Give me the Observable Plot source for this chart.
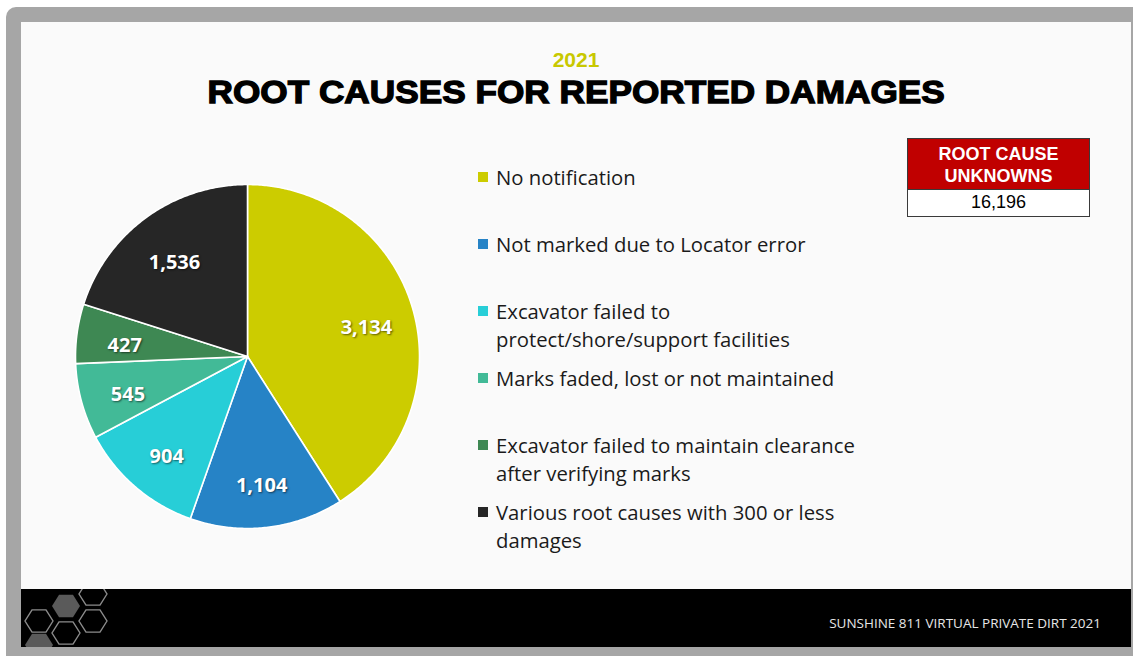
<!DOCTYPE html>
<html><head><meta charset="utf-8">
<script src="https://cdn.jsdelivr.net/npm/d3@7"></script>
<script src="https://cdn.jsdelivr.net/npm/@observablehq/plot@0.6"></script>
<style>
html,body{margin:0;padding:0;background:#fff;width:1133px;height:656px;overflow:hidden;position:relative;}
#frame{position:absolute;left:6px;top:7px;width:1127px;height:649px;background:#a6a6a6;border-top-left-radius:10px;}
#slide{position:absolute;left:21px;top:22px;width:1110px;height:567px;background:#fafafa;overflow:hidden;}
#footer{position:absolute;left:21px;top:589px;width:1110px;height:58px;background:#000;overflow:hidden;}
#footer .ftxt{position:absolute;right:30px;top:25px;font:13.5px "Open Sans",sans-serif;color:#e6e6e6;}
#year{position:absolute;left:21px;width:1110px;top:48px;text-align:center;font:bold 21px "Liberation Sans",Arial,sans-serif;color:#c8c800;}
#title{position:absolute;left:21px;width:1110px;top:74px;text-align:center;}
#title span{display:inline-block;font:bold 32px "Liberation Sans",Arial,sans-serif;color:#000;-webkit-text-stroke:1.3px #000;transform:scaleX(1.1);transform-origin:center;}
#pie{position:absolute;left:67px;top:176px;}
#pie text{text-shadow:1px 1px 2px rgba(0,0,0,0.55);}
.leg{position:absolute;left:478px;width:400px;font:20.3px "Open Sans",sans-serif;color:#1a1a1a;line-height:28px;}
.leg .sw{position:absolute;left:0;top:9px;width:10px;height:10px;}
.leg .tx{margin-left:18px;width:368px;}
#box{position:absolute;left:907px;top:138px;width:181px;height:77px;border:1px solid #3a3a3a;background:#fff;}
#box .hd{height:51px;background:#c00000;color:#fff;text-align:center;font:bold 18px "Liberation Sans",Arial,sans-serif;line-height:22px;padding-top:4px;box-sizing:border-box;border-bottom:1px solid #3a3a3a;}
#box .vl{text-align:center;font:18px "Liberation Sans",Arial,sans-serif;color:#000;line-height:25px;}
</style></head>
<body>
<div id="frame"></div>
<div id="slide"></div>
<div id="footer">
<svg width="120" height="58" style="position:absolute;left:0;top:0">
<g stroke="#8c8c8c" stroke-width="1.4" fill="none">
</g>
</svg>
<div class="ftxt">SUNSHINE 811 VIRTUAL PRIVATE DIRT 2021</div>
</div>
<div id="year">2021</div>
<div id="title"><span>ROOT CAUSES FOR REPORTED DAMAGES</span></div>
<div id="pie"></div>
<div id="legend"></div>
<div id="box"><div class="hd">ROOT CAUSE<br>UNKNOWNS</div><div class="vl">16,196</div></div>
<script>
// ---- data ----
const categories = [
  "No notification",
  "Not marked due to Locator error",
  "Excavator failed to protect/shore/support facilities",
  "Marks faded, lost or not maintained",
  "Excavator failed to maintain clearance after verifying marks",
  "Various root causes with 300 or less damages"
];
const values = [3134, 1104, 904, 545, 427, 1536];
const colors = ["#cccc00", "#2683c6", "#27ced7", "#42ba97", "#3e8853", "#262626"];
const unknownLabel = "ROOT CAUSE UNKNOWNS";
const unknownValue = 16196;

// ---- footer hexagons (decoration) ----
(function(){
  const g = document.querySelector("#footer svg g");
  const R = 14;
  const hexes = [[18,32,false],[18,56,true],[45,17,true],[45,44,false],[72,5,false],[72,32,false]];
  for (const [cx,cy,filled] of hexes) {
    const pts = d3.range(6).map(k => {
      const a = Math.PI/3*k;
      return [cx + R*Math.cos(a), cy + R*Math.sin(a)*0.92].join(",");
    }).join(" ");
    const p = document.createElementNS("http://www.w3.org/2000/svg","polygon");
    p.setAttribute("points", pts);
    if (filled) { p.setAttribute("fill","#5a5a5a"); p.setAttribute("stroke","none"); }
    g.appendChild(p);
  }
})();

// ---- pie geometry from d3.pie ----
const table = categories.map((c,i) => ({cat: c, value: values[i], color: colors[i]}));
const arcs = d3.pie().sort(null).value(d => d.value)(table);
const pts = [];
for (const a of arcs) {
  pts.push({cat: a.data.cat, x: 0, y: 0});
  const n = Math.max(2, Math.ceil((a.endAngle - a.startAngle) / 0.01));
  for (let k = 0; k <= n; k++) {
    const t = a.startAngle + (a.endAngle - a.startAngle) * k / n;
    pts.push({cat: a.data.cat, x: Math.sin(t), y: Math.cos(t)});
  }
  pts.push({cat: a.data.cat, x: 0, y: 0});
}
const labelR = 0.72;
const labels = arcs.map(a => {
  const m = (a.startAngle + a.endAngle) / 2;
  return {x: labelR*Math.sin(m), y: labelR*Math.cos(m), text: d3.format(",")(a.data.value)};
});

const pie = Plot.plot({
  width: 360, height: 360, margin: 8,
  x: {domain: [-1, 1], axis: null},
  y: {domain: [-1, 1], axis: null},
  color: {domain: categories, range: colors},
  style: {background: "transparent", overflow: "visible"},
  marks: [
    Plot.line(pts, {x: "x", y: "y", z: "cat", fill: "cat", stroke: "white", strokeWidth: 1.6, strokeLinejoin: "round", curve: "linear"}),
    Plot.text(labels, {x: "x", y: "y", dy: 6, text: "text", fill: "white", fontSize: 20, fontWeight: "bold", fontFamily: "Open Sans"})
  ]
});
document.getElementById("pie").appendChild(pie);

// ---- legend ----
const legend = document.getElementById("legend");
categories.forEach((c, i) => {
  const d = document.createElement("div");
  d.className = "leg";
  d.style.top = (163 + i*67) + "px";
  d.innerHTML = `<div class="sw" style="background:${colors[i]}"></div><div class="tx">${c}</div>`;
  legend.appendChild(d);
});
document.querySelector("#box .hd").innerHTML = unknownLabel.replace("CAUSE ", "CAUSE<br>");
document.querySelector("#box .vl").textContent = d3.format(",")(unknownValue);
</script>
</body></html>
